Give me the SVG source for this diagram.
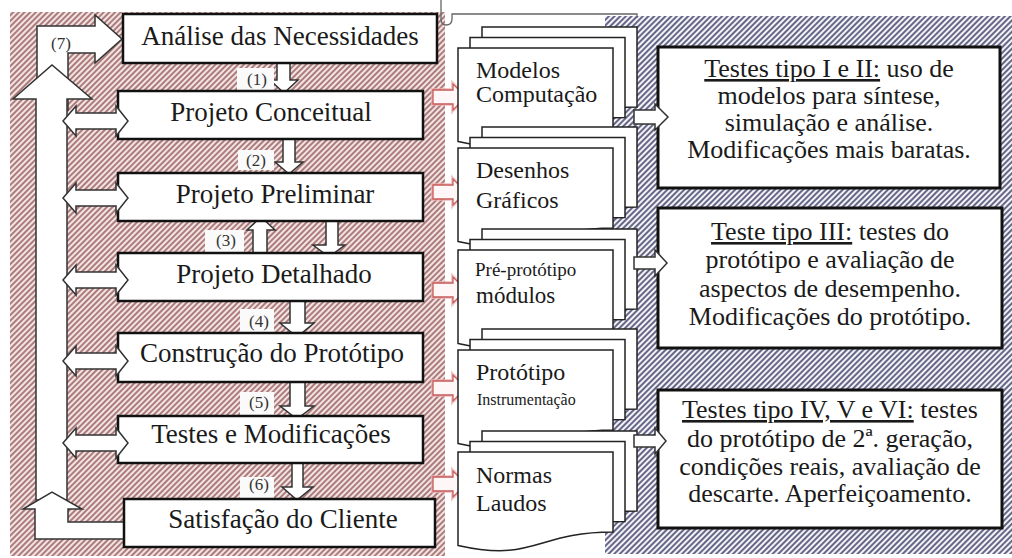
<svg xmlns="http://www.w3.org/2000/svg" width="1012" height="558" viewBox="0 0 1012 558">
<defs>
<pattern id="hatchL" patternUnits="userSpaceOnUse" width="4" height="4" patternTransform="rotate(45)">
<rect width="4" height="4" fill="#f3e4e4"/>
<line x1="2" y1="0" x2="2" y2="4" stroke="#864444" stroke-width="1.3"/>
</pattern>
<pattern id="hatchR" patternUnits="userSpaceOnUse" width="4" height="4" patternTransform="rotate(45)">
<rect width="4" height="4" fill="#f2f2f7"/>
<line x1="2" y1="0" x2="2" y2="4" stroke="#2a2c58" stroke-width="1.4"/>
</pattern>
<style>
.box{fill:#fff;stroke:#111;stroke-width:2.5}
.rbox{fill:#fff;stroke:#111;stroke-width:3}
.t{font-family:"Liberation Serif","Times New Roman",serif;fill:#1a1a1a}
.bt{font-size:27px;text-anchor:middle}
.rt{font-size:26px;text-anchor:middle}
.dt{font-size:24px}
.lab{font-size:17px;text-anchor:middle;fill:#333}
.wa{fill:#fff;stroke:#333;stroke-width:1.5;stroke-linejoin:miter}
.pg{fill:#fff;stroke:#222;stroke-width:1.5}
.pglow{fill:none;stroke:#eeb0b0;stroke-width:4;opacity:0.7}
.pa{fill:#fff7f7;stroke:#c85a5a;stroke-width:1.3}
.patch{fill:#fafafa}
</style>
</defs>

<g id="background">
<rect x="0" y="0" width="1012" height="558" fill="#fff"/>
<rect x="10" y="12" width="435" height="544" fill="url(#hatchL)"/>
<rect x="605" y="16" width="407" height="538" fill="url(#hatchR)"/>
<path d="M441,0 V19 Q441,25 446,25 Q452,25 452,19 V14 H637 V18" fill="none" stroke="#666" stroke-width="1.3"/>
</g>

<g id="connectors">
<path class="wa" d="M37,110 V26 H95 V15 L122,39 L95,63 V53 H68 V110 Z"/>
<path class="wa" d="M36,500 V99 H13 L52,65 L92,99 H67 V500 Z"/>
<path class="wa" d="M124,539 H35 V509 H23 L52,492 L82,509 H68 V522 H124 Z"/>
<path class="wa" d="M277,63 H290 V80 H298 L284,93 L270,80 H277 Z"/>
<path class="wa" d="M283,139 H295 V162 H303 L289,174 L275,162 H283 Z"/>
<path class="wa" d="M326,221 H338 V245 H345 L329,257 L313,245 H326 Z"/>
<path class="wa" d="M253,253 H267 V230 H275 L261,217 L247,230 H253 Z"/>
<path class="wa" d="M290,301 H305 V323 H314 L297,337 L280,323 H290 Z"/>
<path class="wa" d="M290,382 H305 V406 H314 L297,419 L280,406 H290 Z"/>
<path class="wa" d="M292,463 H303 V487 H313 L297,500 L282,487 H292 Z"/>
</g>

<g id="labels">
<rect class="patch" x="237" y="68" width="37" height="22"/>
<rect class="patch" x="238" y="150" width="36" height="20"/>
<rect class="patch" x="205" y="230" width="39" height="22"/>
<rect class="patch" x="240" y="309" width="34" height="23"/>
<rect class="patch" x="240" y="392" width="34" height="23"/>
<rect class="patch" x="240" y="477" width="34" height="21"/>
<text class="t lab" x="257" y="85">(1)</text>
<text class="t lab" x="256" y="166">(2)</text>
<text class="t lab" x="226" y="246">(3)</text>
<text class="t lab" x="259" y="327">(4)</text>
<text class="t lab" x="259" y="408">(5)</text>
<text class="t lab" x="259" y="490">(6)</text>
<text class="t lab" x="61" y="49">(7)</text>
</g>

<g id="n1"><rect class="box" x="123" y="14" width="314" height="49"/><text class="t bt" x="280" y="45">Análise das Necessidades</text></g>
<g id="n2"><rect class="box" x="118" y="91" width="305" height="48"/><text class="t bt" x="271" y="121">Projeto Conceitual</text></g>
<g id="n3"><rect class="box" x="118" y="173" width="305" height="48"/><text class="t bt" x="275" y="203">Projeto Preliminar</text></g>
<g id="n4"><rect class="box" x="118" y="253" width="305" height="48"/><text class="t bt" x="274" y="283">Projeto Detalhado</text></g>
<g id="n5"><rect class="box" x="118" y="333" width="305" height="49"/><text class="t bt" x="272" y="362">Construção do Protótipo</text></g>
<g id="n6"><rect class="box" x="118" y="416" width="305" height="47"/><text class="t bt" x="271" y="443">Testes e Modificações</text></g>
<g id="n7"><rect class="box" x="124" y="499" width="311" height="48"/><text class="t bt" x="283" y="528">Satisfação do Cliente</text></g>

<g id="side-arrows">
<path class="wa" d="M63,121 L76,106 V113 H116 V106 L128,121 L116,136 V129 H76 V136 Z"/>
<path class="wa" d="M63,198 L76,183 V190 H116 V183 L128,198 L116,213 V206 H76 V213 Z"/>
<path class="wa" d="M63,280 L76,265 V272 H116 V265 L128,280 L116,295 V288 H76 V295 Z"/>
<path class="wa" d="M63,361 L76,346 V353 H116 V346 L128,361 L116,376 V369 H76 V376 Z"/>
<path class="wa" d="M63,443 L76,428 V435 H116 V428 L128,443 L116,458 V451 H76 V458 Z"/>
<path class="pglow" d="M433,90 H453 V84 L466,97 L453,110 V104 H433 Z"/>
<path class="pa" d="M433,90 H453 V84 L466,97 L453,110 V104 H433 Z"/>
<path class="pglow" d="M433,185 H453 V179 L466,192 L453,205 V199 H433 Z"/>
<path class="pa" d="M433,185 H453 V179 L466,192 L453,205 V199 H433 Z"/>
<path class="pglow" d="M433,283 H453 V277 L466,290 L453,303 V297 H433 Z"/>
<path class="pa" d="M433,283 H453 V277 L466,290 L453,303 V297 H433 Z"/>
<path class="pglow" d="M433,381 H453 V375 L466,388 L453,401 V395 H433 Z"/>
<path class="pa" d="M433,381 H453 V375 L466,388 L453,401 V395 H433 Z"/>
<path class="pglow" d="M433,477 H453 V471 L466,484 L453,497 V491 H433 Z"/>
<path class="pa" d="M433,477 H453 V471 L466,484 L453,497 V491 H433 Z"/>
</g>

<g id="doc1">
<path class="pg" d="M482,27 H637 V107 C559.5,107 559.5,137.7 482,120.4 Z"/>
<path class="pg" d="M470,37.5 H625 V117.5 C547.5,117.5 547.5,148.2 470,130.9 Z"/>
<path class="pg" d="M458,48 H613 V128 C535.5,128 535.5,158.7 458,141.4 Z"/>
<text class="t dt" x="476" y="78">Modelos</text>
<text class="t dt" x="476" y="102">Computação</text>
</g>
<g id="doc2">
<path class="pg" d="M482,127 H637 V207 C559.5,207 559.5,237.7 482,220.4 Z"/>
<path class="pg" d="M470,137.5 H625 V217.5 C547.5,217.5 547.5,248.2 470,230.9 Z"/>
<path class="pg" d="M458,148 H613 V228 C535.5,228 535.5,258.7 458,241.4 Z"/>
<text class="t dt" x="476" y="178">Desenhos</text>
<text class="t dt" x="476" y="208">Gráficos</text>
</g>
<g id="doc3">
<path class="pg" d="M482,229 H637 V309 C559.5,309 559.5,339.7 482,322.4 Z"/>
<path class="pg" d="M470,239.5 H625 V319.5 C547.5,319.5 547.5,350.2 470,332.9 Z"/>
<path class="pg" d="M458,250 H613 V330 C535.5,330 535.5,360.7 458,343.4 Z"/>
<text class="t" x="475" y="276" font-size="19">Pré-protótipo</text>
<text class="t" x="476" y="303" font-size="23">módulos</text>
</g>
<g id="doc4">
<path class="pg" d="M482,329 H637 V409 C559.5,409 559.5,439.7 482,422.4 Z"/>
<path class="pg" d="M470,339.5 H625 V419.5 C547.5,419.5 547.5,450.2 470,432.9 Z"/>
<path class="pg" d="M458,350 H613 V430 C535.5,430 535.5,460.7 458,443.4 Z"/>
<text class="t dt" x="476" y="380">Protótipo</text>
<text class="t" x="477" y="405" font-size="16">Instrumentação</text>
</g>
<g id="doc5">
<path class="pg" d="M482,431 H637 V511 C559.5,511 559.5,541.7 482,524.4 Z"/>
<path class="pg" d="M470,441.5 H625 V521.5 C547.5,521.5 547.5,552.2 470,534.9 Z"/>
<path class="pg" d="M458,452 H613 V532 C535.5,532 535.5,562.7 458,545.4 Z"/>
<text class="t dt" x="476" y="483">Normas</text>
<text class="t dt" x="476" y="511">Laudos</text>
</g>

<g id="r1">
<rect class="rbox" x="658" y="47" width="342" height="141"/>
<text class="t rt" x="829" y="77"><tspan text-decoration="underline">Testes tipo I e II:</tspan> uso de</text>
<text class="t rt" x="829" y="104">modelos para síntese,</text>
<text class="t rt" x="829" y="131">simulação e análise.</text>
<text class="t rt" x="829" y="158">Modificações mais baratas.</text>
</g>
<g id="r2">
<rect class="rbox" x="658" y="208" width="344" height="140"/>
<text class="t rt" x="830" y="240"><tspan text-decoration="underline">Teste tipo III:</tspan> testes do</text>
<text class="t rt" x="830" y="268">protótipo e avaliação de</text>
<text class="t rt" x="830" y="297">aspectos de desempenho.</text>
<text class="t rt" x="830" y="325">Modificações do protótipo.</text>
</g>
<g id="r3">
<rect class="rbox" x="658" y="390" width="344" height="138"/>
<text class="t rt" x="830" y="418"><tspan text-decoration="underline">Testes tipo IV, V e VI:</tspan> testes</text>
<text class="t rt" x="830" y="447">do protótipo de 2ª. geração,</text>
<text class="t rt" x="830" y="475">condições reais, avaliação de</text>
<text class="t rt" x="830" y="502">descarte. Aperfeiçoamento.</text>
</g>

<g id="right-arrows">
<path class="wa" d="M634,110 H655 V104 L668,117 L655,130 V124 H634 Z"/>
<path class="wa" d="M634,257 H655 V250 L667,263 L655,276 V269 H634 Z"/>
<path class="wa" d="M634,435 H655 V428 L666,441 L655,454 V447 H634 Z"/>
</g>
</svg>
